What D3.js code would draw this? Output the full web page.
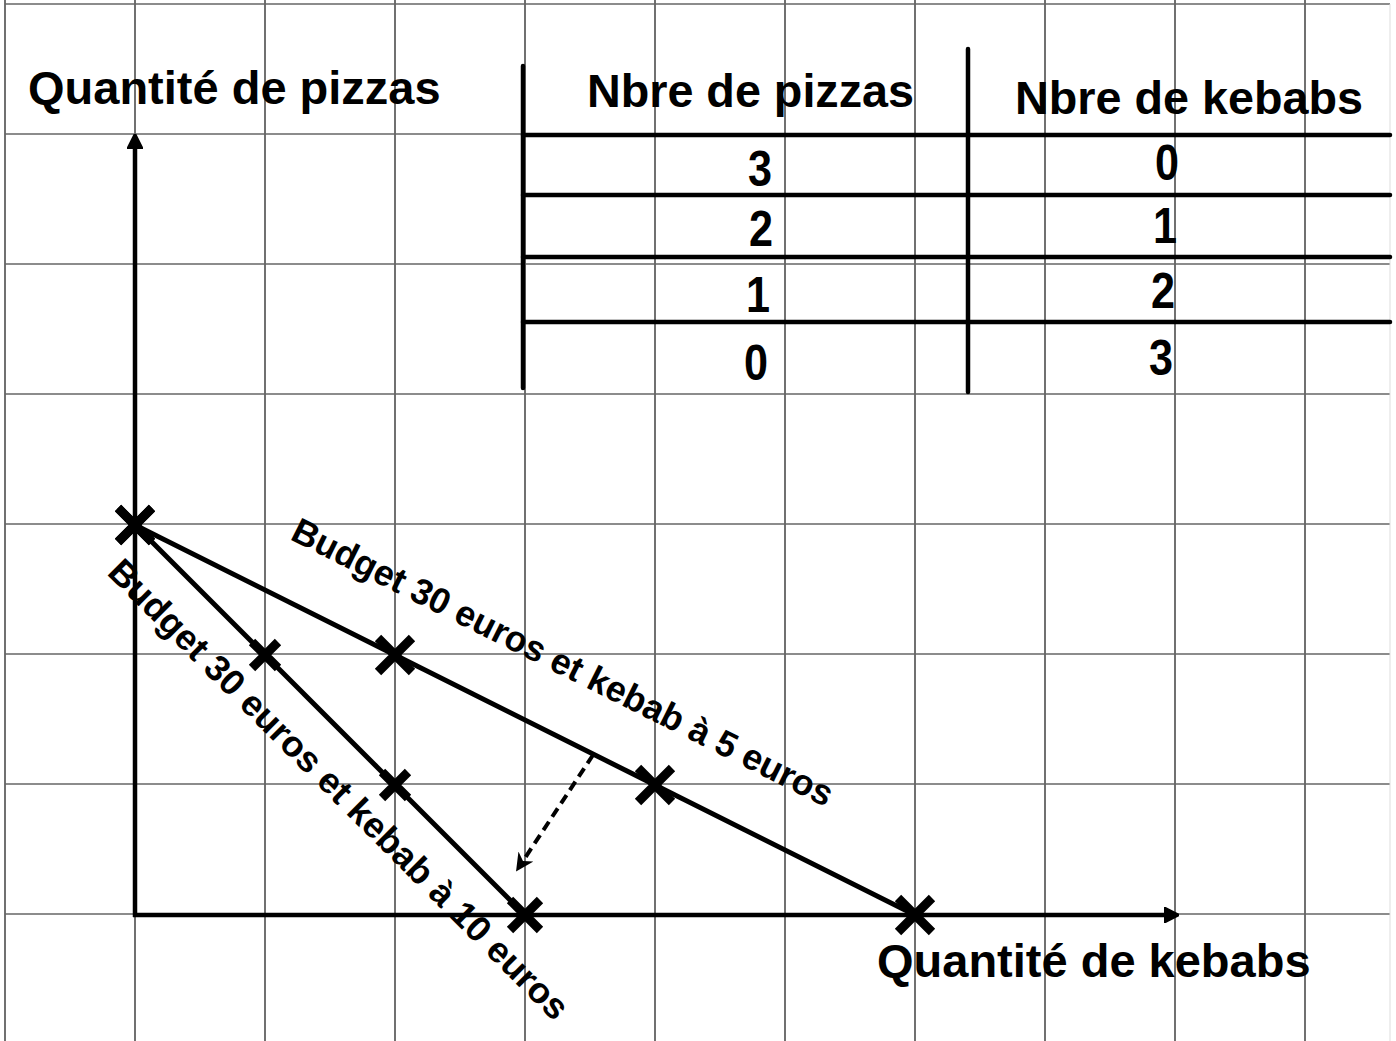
<!DOCTYPE html>
<html>
<head>
<meta charset="utf-8">
<script src="https://cdn.jsdelivr.net/npm/d3@7"></script>
<style>
  body { margin: 0; background: #fff; }
  text { font-family: "Liberation Sans", Arial, sans-serif; font-weight: bold; fill: #000; }
</style>
</head>
<body>
<div id="chart"></div>
<script>
// data of the two budget lines (kebabs on x, pizzas on y)
const pizzas = [3, 2, 1, 0];
const kebabs10 = [0, 1, 2, 3];
const kebabs5 = [0, 2, 4, 6];

// table content
const tableHeaders = ["Nbre de pizzas", "Nbre de kebabs"];
const pizzaCol = ["3", "2", "1", "0"];
const kebabCol = ["0", "1", "2", "3"];

const labelX = "Quantité de kebabs";
const labelY = "Quantité de pizzas";
const label5 = "Budget 30 euros et kebab à 5 euros";
const label10 = "Budget 30 euros et kebab à 10 euros";

var width = 1396,
    height = 1041;

var x = d3.scaleLinear().domain([0, 6]).range([135, 915]);
var y = d3.scaleLinear().domain([0, 3]).range([915, 525]);

var svg = d3.select("#chart").append("svg")
    .attr("width", width)
    .attr("height", height);

var defs = svg.append("defs");
defs.append("marker")
    .attr("id", "arrow")
    .attr("viewBox", "0 0 10 10")
    .attr("refX", 4).attr("refY", 5)
    .attr("markerWidth", 3.4).attr("markerHeight", 3.4)
    .attr("markerUnits", "strokeWidth")
    .attr("orient", "auto")
  .append("path")
    .attr("d", "M0,0L10,5L0,10z")
    .attr("stroke", "#000").attr("stroke-width", 1.5).attr("stroke-linejoin", "round");
defs.append("marker")
    .attr("id", "arrowSmall")
    .attr("viewBox", "0 0 10 10")
    .attr("refX", 5).attr("refY", 5)
    .attr("markerWidth", 4.5).attr("markerHeight", 4.5)
    .attr("markerUnits", "strokeWidth")
    .attr("orient", "auto")
  .append("path")
    .attr("d", "M0,0L10,5L0,10L3,5z");

// background grid
var grid = svg.append("g");
grid.selectAll("line.v")
    .data(d3.range(-1, 10))
  .enter().append("line")
    .attr("class", "v")
    .attr("x1", d => x(d)).attr("x2", d => x(d))
    .attr("y1", 0).attr("y2", height)
    .attr("stroke", "#111").attr("stroke-width", 1.2);
grid.selectAll("line.h")
    .data(d3.range(0, 8))
  .enter().append("line")
    .attr("class", "h")
    .attr("x1", x(-1)).attr("x2", 1390)
    .attr("y1", d => y(d) - 1).attr("y2", d => y(d) - 1)
    .attr("stroke", "#666").attr("stroke-width", 1.5);
grid.append("line")
    .attr("x1", 1390).attr("x2", 1390)
    .attr("y1", 4).attr("y2", height)
    .attr("stroke", "#ddd").attr("stroke-width", 1);

// table
var table = svg.append("g");
[135, 195, 257, 322].forEach(function(yy) {
  table.append("line")
      .attr("x1", 523).attr("x2", 1390)
      .attr("y1", yy).attr("y2", yy)
      .attr("stroke", "#000").attr("stroke-width", 4.5).attr("stroke-linecap", "round");
});
table.append("line")
    .attr("x1", 523).attr("x2", 523).attr("y1", 66).attr("y2", 388)
    .attr("stroke", "#000").attr("stroke-width", 4.5).attr("stroke-linecap", "round");
table.append("line")
    .attr("x1", 968).attr("x2", 968).attr("y1", 49).attr("y2", 392)
    .attr("stroke", "#000").attr("stroke-width", 4.5).attr("stroke-linecap", "round");

table.append("text")
    .attr("x", 587).attr("y", 107)
    .attr("font-size", 46)
    .attr("textLength", 327).attr("lengthAdjust", "spacingAndGlyphs")
    .text(tableHeaders[0]);
table.append("text")
    .attr("x", 1015).attr("y", 114)
    .attr("font-size", 46)
    .attr("textLength", 348).attr("lengthAdjust", "spacingAndGlyphs")
    .text(tableHeaders[1]);

var pizzaPos = [[760, 186], [761, 246], [758, 312], [756, 380]];
var kebabPos = [[1167, 180], [1165, 243], [1163, 308], [1161, 375]];
table.selectAll("text.pz")
    .data(pizzaCol)
  .enter().append("text")
    .attr("class", "pz")
    .attr("x", (d, i) => pizzaPos[i][0] - 12).attr("y", (d, i) => pizzaPos[i][1])
    .attr("font-size", 50)
    .attr("textLength", 24).attr("lengthAdjust", "spacingAndGlyphs")
    .text(d => d);
table.selectAll("text.kb")
    .data(kebabCol)
  .enter().append("text")
    .attr("class", "kb")
    .attr("x", (d, i) => kebabPos[i][0] - 12).attr("y", (d, i) => kebabPos[i][1])
    .attr("font-size", 50)
    .attr("textLength", 24).attr("lengthAdjust", "spacingAndGlyphs")
    .text(d => d);

// axes with arrows
svg.append("line")
    .attr("x1", x(0)).attr("y1", y(0) + 2)
    .attr("x2", x(0)).attr("y2", 143)
    .attr("stroke", "#000").attr("stroke-width", 4.5)
    .attr("marker-end", "url(#arrow)");
svg.append("line")
    .attr("x1", x(0) - 2).attr("y1", y(0))
    .attr("x2", 1170).attr("y2", y(0))
    .attr("stroke", "#000").attr("stroke-width", 4.5)
    .attr("marker-end", "url(#arrow)");

svg.append("text")
    .attr("x", 28).attr("y", 104)
    .attr("font-size", 47)
    .text(labelY);
svg.append("text")
    .attr("x", 877).attr("y", 977)
    .attr("font-size", 47)
    .text(labelX);

// budget lines
var pts10 = pizzas.map((p, i) => [kebabs10[i], p]);
var pts5 = pizzas.map((p, i) => [kebabs5[i], p]);
var line = d3.line().x(d => x(d[0])).y(d => y(d[1]));

svg.append("path")
    .datum(pts10)
    .attr("d", line)
    .attr("fill", "none").attr("stroke", "#000").attr("stroke-width", 5);
svg.append("path")
    .datum(pts5)
    .attr("d", line)
    .attr("fill", "none").attr("stroke", "#000").attr("stroke-width", 5);

// cross markers
function cross(pts, sizes) {
  svg.append("g").selectAll("path")
      .data(pts)
    .enter().append("path")
      .attr("d", function(d, i) {
        var s = sizes[i], cx = x(d[0]), cy = y(d[1]);
        return "M" + (cx - s) + "," + (cy - s) + "L" + (cx + s) + "," + (cy + s) +
               "M" + (cx - s) + "," + (cy + s) + "L" + (cx + s) + "," + (cy - s);
      })
      .attr("stroke", "#000").attr("stroke-width", 9).attr("fill", "none");
}
cross(pts5, [17, 17, 17, 17]);
cross(pts10, [17, 13, 13, 15]);

// rotated labels along the lines (svg angles go clockwise)
var a5 = Math.atan2(y(pts5[3][1]) - y(pts5[0][1]), x(pts5[3][0]) - x(pts5[0][0])) * 180 / Math.PI;
var a10 = Math.atan2(y(pts10[3][1]) - y(pts10[0][1]), x(pts10[3][0]) - x(pts10[0][0])) * 180 / Math.PI;

svg.append("text")
    .attr("transform", "translate(563,662) rotate(" + a5 + ")")
    .attr("text-anchor", "middle")
    .attr("dy", "0.35em")
    .attr("font-size", 36)
    .attr("textLength", 600).attr("lengthAdjust", "spacingAndGlyphs")
    .text(label5);
svg.append("text")
    .attr("transform", "translate(339,789) rotate(" + a10 + ")")
    .attr("text-anchor", "middle")
    .attr("dy", "0.35em")
    .attr("font-size", 36)
    .attr("textLength", 634).attr("lengthAdjust", "spacingAndGlyphs")
    .text(label10);

// dashed arrow showing the shift
svg.append("line")
    .attr("x1", 593).attr("y1", 755)
    .attr("x2", 521).attr("y2", 864)
    .attr("stroke", "#000").attr("stroke-width", 4)
    .attr("stroke-dasharray", "10,6")
    .attr("marker-end", "url(#arrowSmall)");
</script>
</body>
</html>
